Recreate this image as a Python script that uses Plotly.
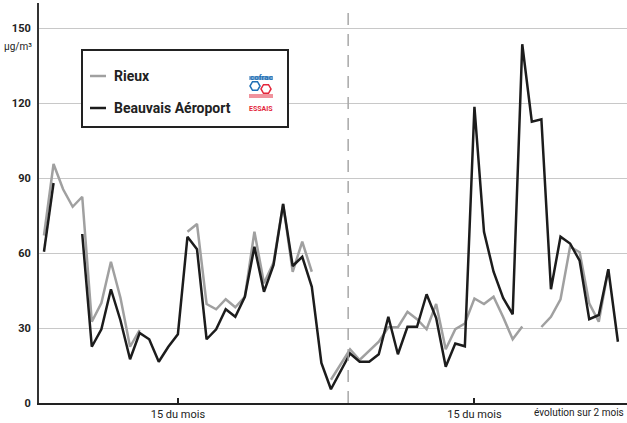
import plotly.graph_objects as go

# days on the x axis (two months, 61 daily values)
days = list(range(61))

rieux = [67, 95.6, 85.5, 78.5, 82.5, 32.5, 40, 56.5, 42, 22.5,
         29.2, None, None, None, None, 68.5, 71.6, 39.6, 37.5, 41.5,
         38.3, 42.5, 68.5, 47.9, 56.2, 79.6, 52.5, 64.5, 52.5, None,
         9.3, 15.2, 21.5, 17.2, 21, 24.5, 30.3, 30.3, 36.5, 33.5,
         29.5, 39.6, 21.5, 29.5, 31.8, 41.8, 39.6, 42.5, 34.4, 25.5,
         30.6, None, 30.4, 34.5, 41.5, 62.5, 60.3, 39.9, 32.5, 53.5,
         None]

beauvais = [60.5, 88, None, None, 67.6, 22.5, 29.5, 45.5, 33, 17.5,
            28, 25.5, 16.5, 22.5, 27.5, 66.5, 61.5, 25.5, 29.5, 37.5,
            34.5, 42.5, 62.5, 44.5, 55.2, 79.6, 54.8, 58.5, 46.5, 16,
            5.5, 12.5, 19.8, 16.5, 16.5, 19.5, 34.5, 19.5, 30.5, 30.5,
            43.5, 34, 14.5, 23.8, 22.7, 118.5, 68.5, 52.5, 42, 35.5,
            143.5, 112.5, 113.5, 45.5, 66.5, 63.8, 56.9, 33.5, 35.2, 53.5,
            24.5]

x_ticks = [14, 45]
x_ticktext = ["15 du mois", "15 du mois"]
y_ticks = [0, 30, 60, 90, 120, 150]
month_split = 31.8

W, H = 627, 423
L, R, T, B = 39, 0, 3, 20
FONT = "Roboto, Liberation Sans, sans-serif"


def px(x):
    return (x - L) / (W - L - R)


def py(y):
    return (H - B - y) / (H - T - B)


def hexagon(cx, cy, r):
    pts = [(cx + r * c, cy + r * s) for c, s in
           [(1, 0), (0.5, 0.866), (-0.5, 0.866), (-1, 0), (-0.5, -0.866), (0.5, -0.866)]]
    return "M " + " L ".join(f"{px(a):.5f},{py(b):.5f}" for a, b in pts) + " Z"


fig = go.Figure()
fig.add_trace(go.Scatter(x=days, y=rieux, mode="lines", name="Rieux",
                         line=dict(color="#a0a0a0", width=2.5)))
fig.add_trace(go.Scatter(x=days, y=beauvais, mode="lines", name="Beauvais Aéroport",
                         line=dict(color="#1c1c1c", width=2.5)))

# month separator
fig.add_shape(type="line", x0=month_split, x1=month_split, y0=0, y1=159,
              line=dict(color="#a8a8a8", width=1.5, dash="12px,9px"))

# legend box drawn by hand
fig.add_shape(type="rect", xref="paper", yref="paper",
              x0=px(82), x1=px(288), y0=py(127), y1=py(50),
              line=dict(color="#222", width=2), fillcolor="white", layer="above")
for name, col, yy in [("Rieux", "#a0a0a0", 76), ("Beauvais Aéroport", "#1c1c1c", 108)]:
    fig.add_shape(type="line", xref="paper", yref="paper",
                  x0=px(90), x1=px(106), y0=py(yy), y1=py(yy),
                  line=dict(color=col, width=2.5), layer="above")
    fig.add_annotation(xref="paper", yref="paper", x=px(112), y=py(yy),
                       xanchor="left", yanchor="middle", text=f"<b>{name}</b>",
                       showarrow=False, font=dict(family=FONT, size=14, color="#222"))

# cofrac logo (simplified)
fig.add_annotation(xref="paper", yref="paper", x=px(261), y=py(71),
                   text="<b>cofrac</b>", showarrow=False,
                   font=dict(family=FONT, size=8, color="#1f6fb5"))
for yy in [77, 79]:
    fig.add_shape(type="line", xref="paper", yref="paper",
                  x0=px(249), x1=px(273), y0=py(yy), y1=py(yy),
                  line=dict(color="#1f6fb5", width=1), layer="above")
for yy in [95, 97]:
    fig.add_shape(type="line", xref="paper", yref="paper",
                  x0=px(249), x1=px(273), y0=py(yy), y1=py(yy),
                  line=dict(color="#e3263a", width=1), layer="above")
fig.add_shape(type="path", xref="paper", yref="paper", path=hexagon(255, 86, 5),
              line=dict(color="#1f6fb5", width=1.5), layer="above")
fig.add_shape(type="path", xref="paper", yref="paper", path=hexagon(266, 89, 5),
              line=dict(color="#e3263a", width=1.5), layer="above")
fig.add_annotation(xref="paper", yref="paper", x=px(261), y=py(103),
                   text="<b>ESSAIS</b>", showarrow=False,
                   font=dict(family=FONT, size=7, color="#e3263a"))

# unit and footnote
fig.add_annotation(xref="paper", yref="y", x=px(34), y=142.5, xanchor="right",
                   text="µg/m³", showarrow=False,
                   font=dict(family=FONT, size=10, color="#222"))
fig.add_annotation(xref="paper", yref="paper", x=px(532), y=py(413), xanchor="left",
                   yanchor="middle", text="évolution sur 2 mois", showarrow=False,
                   font=dict(family=FONT, size=10, color="#222"))

fig.update_layout(
    width=W, height=H,
    margin=dict(l=L, r=R, t=T, b=B),
    plot_bgcolor="white", paper_bgcolor="white",
    showlegend=False,
    font=dict(family=FONT, color="#222"),
)
fig.update_xaxes(range=[-0.52, 60.95], tickvals=x_ticks, ticktext=x_ticktext,
                 ticks="inside", ticklen=5, tickcolor="#222", tickwidth=1.5,
                 showgrid=False, zeroline=False, showline=True, automargin=False,
                 linecolor="#222", linewidth=2, tickfont=dict(size=11))
fig.update_yaxes(range=[0, 160], tickvals=y_ticks,
                 ticktext=[f"<b>{v}</b>" for v in y_ticks],
                 showgrid=True, gridcolor="#c8c8c8", gridwidth=1, automargin=False,
                 zeroline=False, showline=True, linecolor="#333", linewidth=2,
                 ticks="", tickfont=dict(size=11), ticklabelstandoff=4)

# the page body has a default margin; remove it so the figure sits at 0,0
fig.write_html("out.html", config={"displayModeBar": False},
               post_script="document.body.style.margin='0';")
